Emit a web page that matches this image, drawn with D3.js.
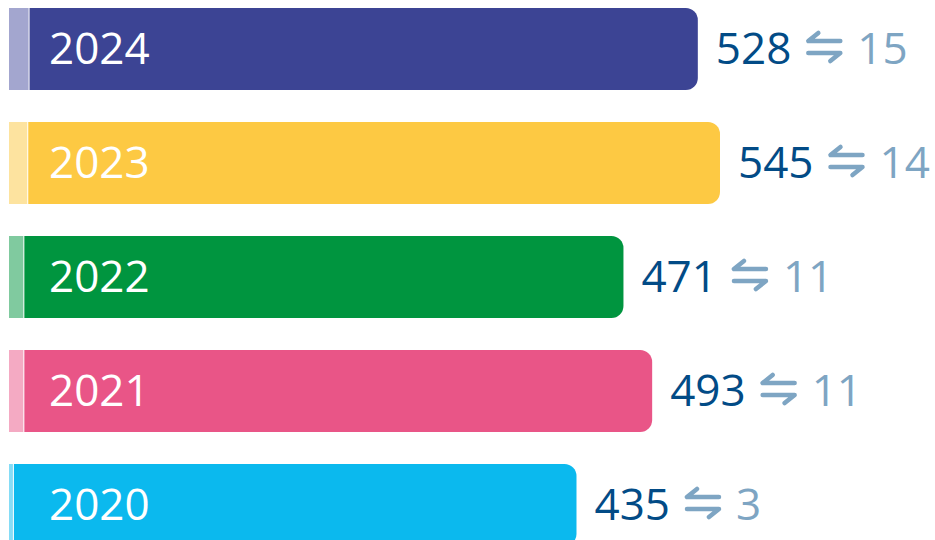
<!DOCTYPE html>
<html lang="en">
<head>
    <meta charset="UTF-8">
    <title>Yearly totals</title>
    <style>
        body {
            margin: 0;
            background: #fff;
        }
        svg {
            display: block;
        }
        .year {
            font-family: "Open Sans", sans-serif;
            font-size: 44px;
            fill: #fff;
        }
        .value {
            font-family: "Open Sans", sans-serif;
            font-size: 44px;
        }
        .arrow {
            fill: none;
            stroke: #7ea5c3;
            stroke-width: 4.5px;
            stroke-linecap: round;
            stroke-linejoin: round;
        }
    </style>
</head>
<body>
    <svg width="935" height="540"></svg>
    <script src="https://d3js.org/d3.v7.min.js"></script>
    <script>
        const years = ["2024", "2023", "2022", "2021", "2020"];
        const totals = [528, 545, 471, 493, 435];
        const changes = [15, 14, 11, 11, 3];
        const mainColors = ["#3c4494", "#fdc943", "#00953f", "#e95587", "#0bb9ee"];
        const lightColors = ["#a3a6cf", "#fde39f", "#80ca9f", "#f4aac3", "#85dcf6"];

        const rows = years.map((y, i) => ({
            year: y, total: totals[i], change: changes[i],
            main: mainColors[i], light: lightColors[i]
        }));

        const svg = d3.select("svg");

        const x = d3.scaleLinear()
            .domain([0, d3.max(totals)])
            .range([9, 720]);

        const y = d3.scaleBand()
            .domain(years)
            .range([8, 546])
            .paddingInner(32 / 114)
            .paddingOuter(0);

        const r = 12;

        // right side rounded, left side square
        function barPath(x0, x1, y0, h) {
            return `M${x0},${y0}H${x1 - r}A${r},${r} 0 0 1 ${x1},${y0 + r}` +
                `V${y0 + h - r}A${r},${r} 0 0 1 ${x1 - r},${y0 + h}H${x0}Z`;
        }

        // left harpoon over right harpoon, 32px wide
        function harpoons(x0, cy) {
            const w = 32;
            return `M${x0 + 10},${cy - 15}L${x0},${cy - 7}H${x0 + w}` +
                `M${x0},${cy + 5}H${x0 + w}L${x0 + w - 10},${cy + 13}`;
        }

        const g = svg.append("g")
            .selectAll("g")
            .data(rows)
            .enter().append("g");

        g.append("rect")
            .attr("x", x(0))
            .attr("y", d => y(d.year))
            .attr("width", d => x(d.change) - x(0))
            .attr("height", y.bandwidth())
            .attr("fill", d => d.light);

        g.append("path")
            .attr("d", d => barPath(x(d.change) + 1, x(d.total), y(d.year), y.bandwidth()))
            .attr("fill", d => d.main);

        g.append("text")
            .attr("class", "year")
            .attr("x", 49)
            .attr("y", d => y(d.year) + y.bandwidth() / 2 + 15)
            .text(d => d.year);

        g.each(function (d) {
            const row = d3.select(this);
            const cy = y(d.year) + y.bandwidth() / 2;
            const x0 = x(d.total) + 18;
            const t = row.append("text")
                .attr("class", "value")
                .attr("x", x0)
                .attr("y", cy + 15)
                .attr("fill", "#024b86")
                .text(d.total);
            const ax = x0 + t.node().getComputedTextLength() + 17;
            row.append("path")
                .attr("class", "arrow")
                .attr("d", harpoons(ax, cy - 1));
            row.append("text")
                .attr("class", "value")
                .attr("x", ax + 32 + 17)
                .attr("y", cy + 15)
                .attr("fill", "#7ea5c3")
                .text(d.change);
        });
    </script>
</body>
</html>
